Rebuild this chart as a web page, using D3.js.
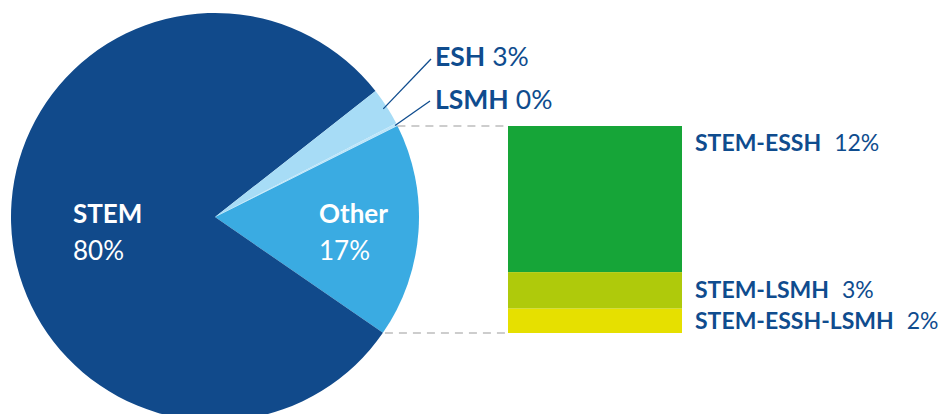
<!DOCTYPE html>
<html>
<head>
    <title></title>
    <meta charset="utf-8">
    <style>
        body { margin: 0; background: #fff; }
        text { font-family: Lato, "Open Sans", sans-serif; }
    </style>
</head>
<body>
<script src="https://d3js.org/d3.v7.min.js"></script>
<script>
    // pie slices, clockwise starting from "Other"
    var pieNames = ['Other', 'STEM', 'ESH', 'LSMH'];
    var pieValues = [17.0, 79.8, 3.0, 0.2];
    var pieColors = ['#3aabe2', '#114a8b', '#a7dcf6', '#bde5f9'];

    // breakdown of "Other"
    var barNames = ['STEM-ESSH', 'STEM-LSMH', 'STEM-ESSH-LSMH'];
    var barValues = [12, 3, 2];
    var barColors = ['#16a538', '#afca0b', '#e6e000'];

    var textBlue = '#0f4c8e';

    var svg = d3.select('body').append('svg')
        .attr('width', 946)
        .attr('height', 414);

    var cx = 215, cy = 217, r = 204;
    var startDeg = 63.4;

    var pie = d3.pie()
        .sort(null)
        .startAngle(startDeg * Math.PI / 180)
        .endAngle(startDeg * Math.PI / 180 + 2 * Math.PI);
    var arcs = pie(pieValues);
    var arc = d3.arc().innerRadius(0).outerRadius(r);

    var g = svg.append('g').attr('transform', 'translate(' + cx + ',' + cy + ')');
    g.selectAll('path').data(arcs).enter().append('path')
        .attr('d', arc)
        .style('fill', function (d, i) { return pieColors[i]; });

    function pt(angle, rad) {
        return [cx + rad * Math.sin(angle), cy - rad * Math.cos(angle)];
    }

    // bar scale
    var y = d3.scaleLinear().domain([0, d3.sum(barValues)]).range([126, 333]);
    var barX = 508, barW = 174;
    var acc = 0;
    var stack = barValues.map(function (v) { var s = acc; acc += v; return [s, acc]; });

    // dashed connectors from the "Other" slice edges to the bar
    var pTop = pt(arcs[0].startAngle, r), pBot = pt(arcs[0].endAngle, r);
    svg.append('line')
        .attr('x1', pTop[0]).attr('y1', y(0)).attr('x2', barX).attr('y2', y(0))
        .style('stroke', '#bdbdbd').style('stroke-width', 1.5).style('stroke-dasharray', '8,6');
    svg.append('line')
        .attr('x1', pBot[0] + 2).attr('y1', y(acc)).attr('x2', barX).attr('y2', y(acc))
        .style('stroke', '#bdbdbd').style('stroke-width', 1.5).style('stroke-dasharray', '8,6');

    svg.selectAll('rect.seg').data(stack).enter().append('rect')
        .attr('class', 'seg')
        .attr('x', barX)
        .attr('y', function (d) { return y(d[0]); })
        .attr('width', barW)
        .attr('height', function (d) { return y(d[1]) - y(d[0]); })
        .style('fill', function (d, i) { return barColors[i]; });

    // labels inside the pie
    function inner(name, val, x) {
        svg.append('text').attr('x', x).attr('y', 223)
            .style('fill', '#fff').style('font-weight', 'bold').style('font-size', '26px')
            .text(name);
        svg.append('text').attr('x', x).attr('y', 260)
            .style('fill', '#fff').style('font-size', '26px')
            .text(Math.round(val) + '%');
    }
    inner(pieNames[1], pieValues[1], 73);
    inner(pieNames[0], pieValues[0], 319);

    // outside labels for the small slices
    var leaders = [
        { i: 2, y: 66, a: arcs[2], from: r - 4, tx: 431, ty: 59 },
        { i: 3, y: 109, a: arcs[3], from: r - 2, tx: 430, ty: 101 }
    ];
    leaders.forEach(function (l) {
        var mid = (l.a.startAngle + l.a.endAngle) / 2;
        var p = pt(mid, l.from);
        svg.append('line')
            .attr('x1', p[0]).attr('y1', p[1]).attr('x2', l.tx).attr('y2', l.ty)
            .style('stroke', textBlue).style('stroke-width', 1.3);
        var t = svg.append('text').attr('x', 435).attr('y', l.y)
            .style('fill', textBlue).style('font-size', '26.5px');
        t.append('tspan').style('font-weight', 'bold').text(pieNames[l.i]);
        t.append('tspan').attr('dx', 7).text(Math.round(pieValues[l.i]) + '%');
    });

    // labels for the bar segments
    var labelY = [151, 298, 329];
    barNames.forEach(function (n, i) {
        var t = svg.append('text').attr('x', 695).attr('y', labelY[i])
            .style('fill', textBlue).style('font-size', '23px');
        t.append('tspan').style('font-weight', 'bold').text(n);
        t.append('tspan').attr('dx', 13).text(barValues[i] + '%');
    });
</script>
</body>
</html>
